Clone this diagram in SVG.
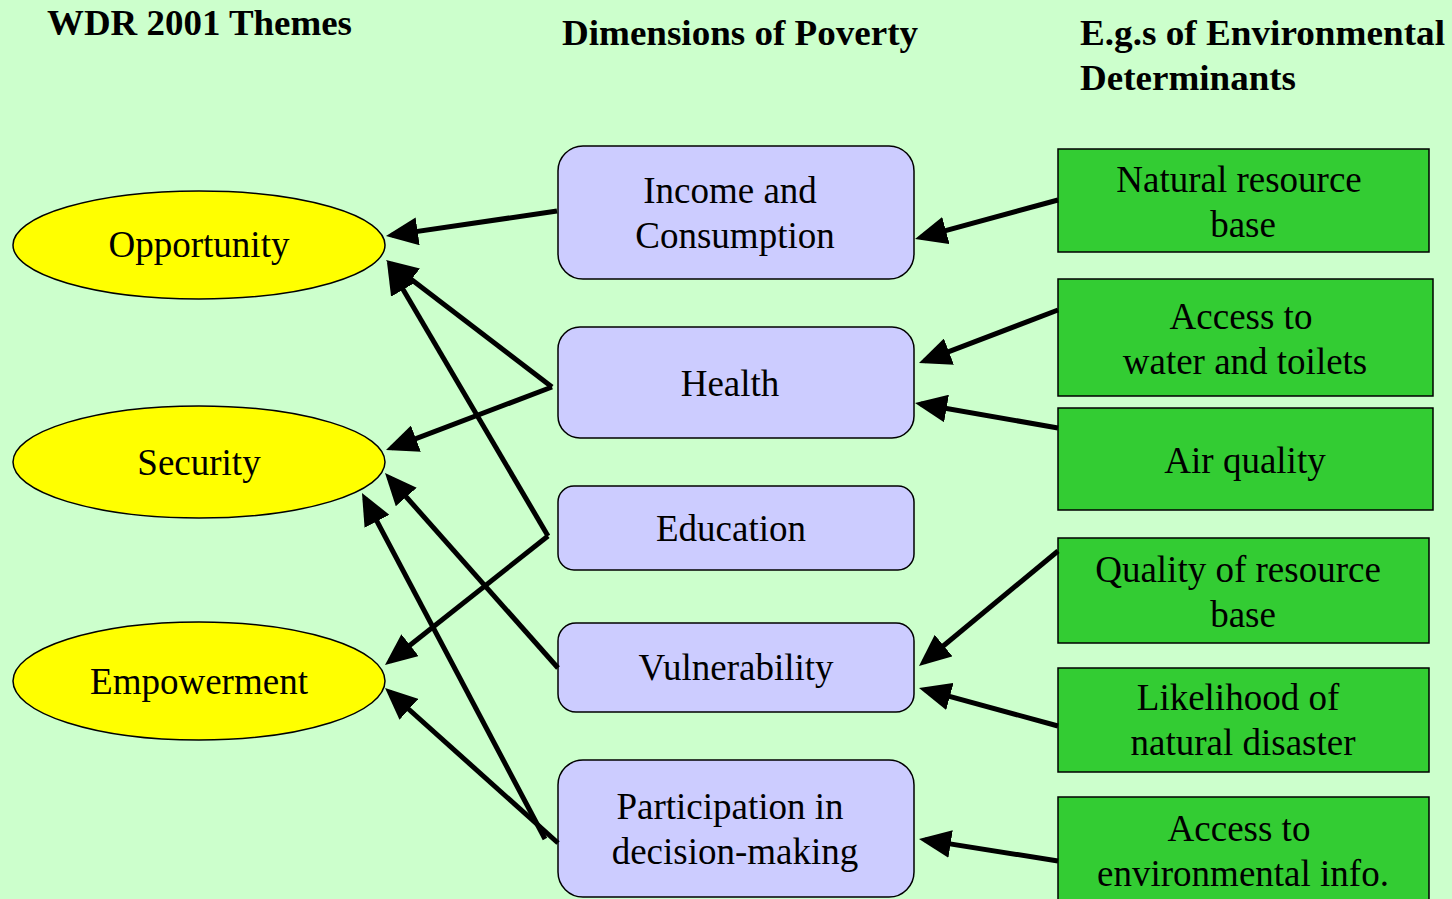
<svg xmlns="http://www.w3.org/2000/svg" width="1452" height="899" viewBox="0 0 1452 899">
<defs>
<style>
.h{font-family:"Liberation Serif","Times New Roman",serif;font-weight:bold;font-size:36px;fill:#000}
.t{font-family:"Liberation Serif","Times New Roman",serif;font-size:37px;fill:#000;text-anchor:middle}
.ell{fill:#FFFF00;stroke:#000;stroke-width:1.5}
.dim{fill:#CCCCFF;stroke:#000;stroke-width:1.5}
.env{fill:#33CC33;stroke:#000;stroke-width:1.5}
.c{stroke:#000;stroke-width:5;fill:none;marker-end:url(#ah)}
</style>
<marker id="ah" markerUnits="userSpaceOnUse" markerWidth="32" markerHeight="28" refX="26" refY="14" orient="auto">
<path d="M0,0 L32,14 L0,28 z" fill="#000"/>
</marker>
</defs>
<rect x="0" y="0" width="1452" height="899" fill="#CCFFCC"/>
<g id="headers">
<text class="h" x="47" y="35" textLength="305" lengthAdjust="spacingAndGlyphs">WDR 2001 Themes</text>
<text class="h" x="562" y="45" textLength="356" lengthAdjust="spacingAndGlyphs">Dimensions of Poverty</text>
<text class="h" x="1080" y="45" textLength="365" lengthAdjust="spacingAndGlyphs">E.g.s of Environmental</text>
<text class="h" x="1080" y="90" textLength="216" lengthAdjust="spacingAndGlyphs">Determinants</text>
</g>
<g id="opportunity"><ellipse class="ell" cx="199" cy="245" rx="186" ry="54"/><text class="t" x="199" y="257">Opportunity</text></g>
<g id="security"><ellipse class="ell" cx="199" cy="462" rx="186" ry="56"/><text class="t" x="199" y="475">Security</text></g>
<g id="empowerment"><ellipse class="ell" cx="199" cy="681" rx="186" ry="59"/><text class="t" x="199" y="694">Empowerment</text></g>
<g id="income"><rect class="dim" x="558" y="146" width="356" height="133" rx="25"/><text class="t" x="730" y="203">Income and</text><text class="t" x="735" y="248">Consumption</text></g>
<g id="health"><rect class="dim" x="558" y="327" width="356" height="111" rx="22"/><text class="t" x="730" y="396">Health</text></g>
<g id="education"><rect class="dim" x="558" y="486" width="356" height="84" rx="16"/><text class="t" x="731" y="541">Education</text></g>
<g id="vulnerability"><rect class="dim" x="558" y="623" width="356" height="89" rx="18"/><text class="t" x="736" y="680">Vulnerability</text></g>
<g id="participation"><rect class="dim" x="558" y="760" width="356" height="137" rx="25"/><text class="t" x="730" y="819">Participation in</text><text class="t" x="735" y="864">decision-making</text></g>
<g id="natural"><rect class="env" x="1058" y="149" width="371" height="103"/><text class="t" x="1239" y="192">Natural resource</text><text class="t" x="1243" y="237">base</text></g>
<g id="water"><rect class="env" x="1058" y="279" width="375" height="117"/><text class="t" x="1241" y="329">Access to</text><text class="t" x="1245" y="374">water and toilets</text></g>
<g id="air"><rect class="env" x="1058" y="408" width="375" height="102"/><text class="t" x="1245" y="473">Air quality</text></g>
<g id="quality"><rect class="env" x="1058" y="538" width="371" height="105"/><text class="t" x="1238" y="582">Quality of resource</text><text class="t" x="1243" y="627">base</text></g>
<g id="disaster"><rect class="env" x="1058" y="668" width="371" height="104"/><text class="t" x="1238" y="710">Likelihood of</text><text class="t" x="1243" y="755">natural disaster</text></g>
<g id="envinfo"><rect class="env" x="1058" y="797" width="371" height="110"/><text class="t" x="1239" y="841">Access to</text><text class="t" x="1243" y="886">environmental info.</text></g>
<g id="connectors">
<line class="c" x1="557" y1="211" x2="391.9" y2="235.1"/>
<line class="c" x1="552" y1="387" x2="390.8" y2="263.7"/>
<line class="c" x1="552" y1="387" x2="391.6" y2="447.9"/>
<line class="c" x1="548" y1="536" x2="390" y2="267.2"/>
<line class="c" x1="548" y1="536" x2="389.7" y2="661.3"/>
<line class="c" x1="558" y1="668" x2="389" y2="477.5"/>
<line class="c" x1="545" y1="839" x2="364.8" y2="498.3"/>
<line class="c" x1="558" y1="843" x2="389.5" y2="692"/>
<line class="c" x1="1058" y1="200" x2="920.8" y2="237.4"/>
<line class="c" x1="1058" y1="310" x2="924.6" y2="360.9"/>
<line class="c" x1="1058" y1="428" x2="920.9" y2="404"/>
<line class="c" x1="1058" y1="551" x2="923.6" y2="662.2"/>
<line class="c" x1="1058" y1="726" x2="924.8" y2="689.6"/>
<line class="c" x1="1058" y1="861" x2="924.9" y2="839.9"/>
</g>
</svg>
